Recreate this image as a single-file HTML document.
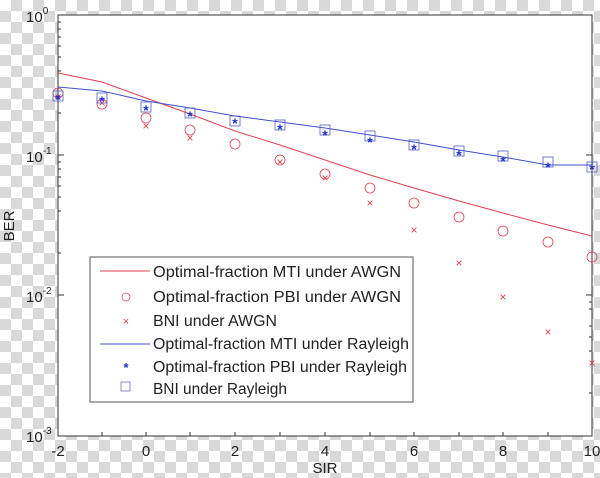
<!DOCTYPE html><html><head><style>
body{margin:0;width:600px;height:478px;overflow:hidden;background-color:#fff;
background-image:linear-gradient(45deg,#d9d9d9 25%,transparent 25%,transparent 75%,#d9d9d9 75%),linear-gradient(45deg,#d9d9d9 25%,transparent 25%,transparent 75%,#d9d9d9 75%);
background-size:22px 22px;background-position:0 0,11px 11px;font-family:"Liberation Sans",sans-serif}
</style></head><body>
<svg width="600" height="478" style="position:absolute;left:0;top:0" font-family="Liberation Sans, sans-serif">
<rect x="58" y="15" width="534" height="421" fill="#fff" stroke="#333" stroke-width="1"/>
<g stroke="#333" stroke-width="1">
<line x1="102" y1="436" x2="102" y2="432"/><line x1="146" y1="436" x2="146" y2="432"/><line x1="190" y1="436" x2="190" y2="432"/><line x1="235" y1="436" x2="235" y2="432"/><line x1="280" y1="436" x2="280" y2="432"/><line x1="325" y1="436" x2="325" y2="432"/><line x1="370" y1="436" x2="370" y2="432"/><line x1="414" y1="436" x2="414" y2="432"/><line x1="459" y1="436" x2="459" y2="432"/><line x1="503" y1="436" x2="503" y2="432"/><line x1="548" y1="436" x2="548" y2="432"/>
<line x1="58" y1="155" x2="64" y2="155"/><line x1="58" y1="295" x2="64" y2="295"/>
<line x1="586" y1="155" x2="592" y2="155"/><line x1="586" y1="295" x2="592" y2="295"/>
<g stroke-width="1">
<line x1="58" y1="22" x2="61" y2="22"/><line x1="58" y1="29" x2="61" y2="29"/><line x1="58" y1="37" x2="61" y2="37"/><line x1="58" y1="46" x2="61" y2="46"/><line x1="58" y1="57" x2="61" y2="57"/><line x1="58" y1="71" x2="61" y2="71"/><line x1="58" y1="113" x2="61" y2="113"/>
<line x1="58" y1="162" x2="61" y2="162"/><line x1="58" y1="169" x2="61" y2="169"/><line x1="58" y1="177" x2="61" y2="177"/><line x1="58" y1="186" x2="61" y2="186"/><line x1="58" y1="197" x2="61" y2="197"/><line x1="58" y1="211" x2="61" y2="211"/><line x1="58" y1="253" x2="61" y2="253"/>
<line x1="589" y1="302" x2="592" y2="302"/><line x1="589" y1="309" x2="592" y2="309"/><line x1="589" y1="326" x2="592" y2="326"/><line x1="589" y1="337" x2="592" y2="337"/><line x1="589" y1="351" x2="592" y2="351"/><line x1="589" y1="393" x2="592" y2="393"/>
</g>
</g>
<g font-size="15" fill="#222">
<text x="58" y="456" text-anchor="middle">-2</text><text x="146" y="456" text-anchor="middle">0</text><text x="235" y="456" text-anchor="middle">2</text><text x="325" y="456" text-anchor="middle">4</text><text x="414" y="456" text-anchor="middle">6</text><text x="503" y="456" text-anchor="middle">8</text><text x="592" y="456" text-anchor="middle">10</text>
<text x="325" y="473" text-anchor="middle">SIR</text>
<text x="26" y="22">10<tspan font-size="10" dy="-8">0</tspan></text>
<text x="26" y="162">10<tspan font-size="10" dy="-8">-1</tspan></text>
<text x="26" y="302">10<tspan font-size="10" dy="-8">-2</tspan></text>
<text x="26" y="442">10<tspan font-size="10" dy="-8">-3</tspan></text>
<text transform="translate(14,226) rotate(-90)" text-anchor="middle">BER</text>
</g>
<polyline fill="none" stroke="#e04050" stroke-width="1" points="58,73 102,82 146,98 190,114 235,131 280,145 325,160 370,175 414,188 459,201 503,213 548,225 592,236"/>
<polyline fill="none" stroke="#4050d0" stroke-width="1" points="58,87 102,91 146,101 190,108 235,116 280,122 325,128 370,135 414,142 459,150 503,157 548,165 592,165"/>
<g fill="none" stroke="#e04050" stroke-width="0.8">
<circle cx="58" cy="93" r="5"/><circle cx="102" cy="104" r="5"/><circle cx="146" cy="118" r="5"/><circle cx="190" cy="130" r="5"/><circle cx="235" cy="144" r="5"/><circle cx="280" cy="160" r="5"/><circle cx="325" cy="174" r="5"/><circle cx="370" cy="188" r="5"/><circle cx="414" cy="203" r="5"/><circle cx="459" cy="217" r="5"/><circle cx="503" cy="231" r="5"/><circle cx="548" cy="242" r="5"/><circle cx="592" cy="257" r="5"/>
</g>
<g fill="#e04050" font-size="12" text-anchor="middle">
<text x="58" y="101">×</text><text x="102" y="107">×</text><text x="146" y="130">×</text><text x="190" y="142">×</text><text x="280" y="166">×</text><text x="325" y="182">×</text><text x="370" y="207">×</text><text x="414" y="234">×</text><text x="459" y="267">×</text><text x="503" y="301">×</text><text x="548" y="336">×</text><text x="592" y="367">×</text>
</g>
<g fill="none" stroke="#5060c0" stroke-width="0.8">
<rect x="53" y="91" width="10" height="10"/><rect x="97" y="93" width="10" height="10"/><rect x="141" y="102" width="10" height="10"/><rect x="185" y="108" width="10" height="10"/><rect x="230" y="116" width="10" height="10"/><rect x="275" y="120" width="10" height="10"/><rect x="320" y="125" width="10" height="10"/><rect x="365" y="131" width="10" height="10"/><rect x="409" y="140" width="10" height="10"/><rect x="454" y="146" width="10" height="10"/><rect x="498" y="151" width="10" height="10"/><rect x="543" y="157" width="10" height="10"/><rect x="587" y="162" width="10" height="10"/>
</g>
<g fill="#2030d0" font-size="14" text-anchor="middle" font-weight="bold">
<text x="58" y="104">*</text><text x="102" y="106">*</text><text x="146" y="115">*</text><text x="190" y="121">*</text><text x="235" y="128">*</text><text x="280" y="134">*</text><text x="325" y="140">*</text><text x="370" y="147">*</text><text x="414" y="154">*</text><text x="459" y="160">*</text><text x="503" y="166">*</text><text x="548" y="172">*</text><text x="592" y="174">*</text>
</g>
<rect x="90" y="257" width="323" height="145" fill="#fff" stroke="#555" stroke-width="1"/>
<line x1="100" y1="271" x2="150" y2="271" stroke="#e04050"/>
<circle cx="126" cy="297" r="4" fill="none" stroke="#e04050" stroke-width="0.7"/>
<text x="126" y="325" fill="#e04050" font-size="11" text-anchor="middle">×</text>
<line x1="100" y1="344" x2="150" y2="344" stroke="#4050d0"/>
<text x="126" y="372" fill="#2030d0" font-size="13" font-weight="bold" text-anchor="middle">*</text>
<rect x="121" y="382" width="9" height="9" fill="none" stroke="#5060c0" stroke-width="0.7"/>
<g font-size="15.5" fill="#222">
<text x="153" y="277" textLength="248" lengthAdjust="spacingAndGlyphs">Optimal-fraction MTI under AWGN</text>
<text x="153" y="302" textLength="248" lengthAdjust="spacingAndGlyphs">Optimal-fraction PBI under AWGN</text>
<text x="153" y="326" textLength="124" lengthAdjust="spacingAndGlyphs">BNI under AWGN</text>
<text x="153" y="349" textLength="256" lengthAdjust="spacingAndGlyphs">Optimal-fraction MTI under Rayleigh</text>
<text x="153" y="372" textLength="254" lengthAdjust="spacingAndGlyphs">Optimal-fraction PBI under Rayleigh</text>
<text x="153" y="394" textLength="134" lengthAdjust="spacingAndGlyphs">BNI under Rayleigh</text>
</g>
</svg>
</body></html>
